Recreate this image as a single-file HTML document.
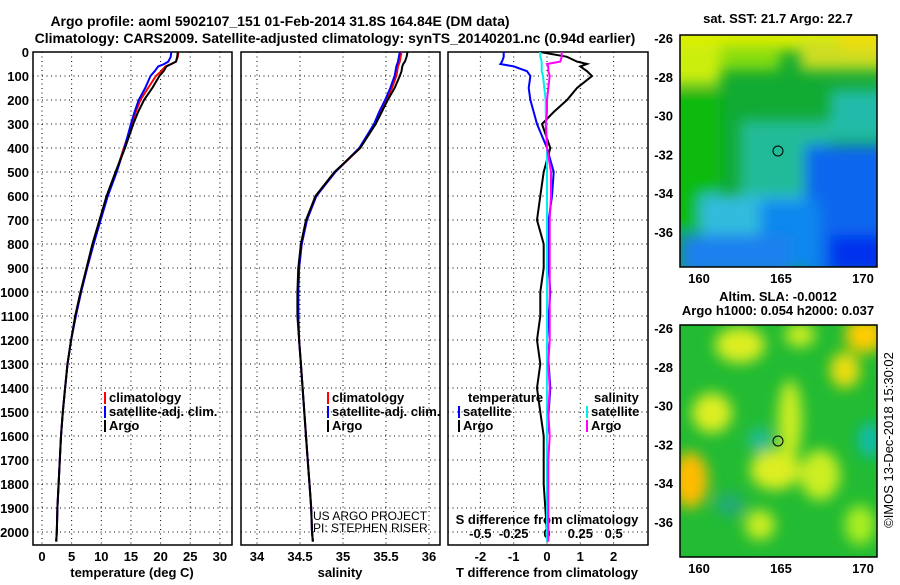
<!DOCTYPE html>
<html><head><meta charset="utf-8"><style>
body{margin:0;background:#fff}
svg text{font-family:"Liberation Sans",Arial,sans-serif;font-weight:bold;font-size:13px;fill:#000}
</style></head><body>
<svg id="s" width="900" height="580" viewBox="0 0 900 580" xmlns="http://www.w3.org/2000/svg">
<defs>
<filter id="bl" x="-20%" y="-20%" width="140%" height="140%"><feGaussianBlur stdDeviation="7"/></filter>
<clipPath id="c1"><rect x="680" y="35" width="197" height="232"/></clipPath>
<clipPath id="c2"><rect x="680" y="325" width="197" height="232"/></clipPath>
</defs>
<text x="280" y="26" text-anchor="middle" style="font-size:14px">Argo profile: aoml 5902107_151 01-Feb-2014 31.8S 164.84E (DM data)</text>
<text x="335" y="43" text-anchor="middle" style="font-size:14px">Climatology: CARS2009. Satellite-adjusted climatology: synTS_20140201.nc (0.94d earlier)</text>

<!-- map 1 -->
<g clip-path="url(#c1)">
<rect x="680" y="35" width="197" height="232" fill="#11aa33"/>
<g filter="url(#bl)">
<rect x="660" y="20" width="240" height="30" fill="#ddee00"/>
<rect x="660" y="45" width="60" height="40" fill="#ccee11"/>
<rect x="720" y="45" width="60" height="25" fill="#88dd11"/>
<rect x="800" y="40" width="90" height="30" fill="#ccdd22"/>
<rect x="840" y="30" width="50" height="20" fill="#eedd11"/>
<rect x="650" y="90" width="70" height="140" fill="#11bb11"/>
<rect x="740" y="120" width="90" height="80" fill="#22bb99"/>
<rect x="830" y="90" width="70" height="50" fill="#22bbaa"/>
<rect x="700" y="195" width="110" height="50" fill="#33bbdd"/>
<rect x="805" y="145" width="90" height="130" fill="#1166ee"/>
<rect x="760" y="200" width="60" height="70" fill="#1188ee"/>
<rect x="680" y="235" width="110" height="40" fill="#1f80ee"/>
<rect x="830" y="235" width="60" height="40" fill="#0033ee"/>
</g>
</g>
<rect x="680" y="35" width="197" height="232" fill="none" stroke="#000" stroke-width="1.5"/>
<circle cx="778" cy="151" r="5" fill="none" stroke="#000"/>
<text x="778" y="23" text-anchor="middle">sat. SST: 21.7 Argo: 22.7</text>

<!-- map 2 -->
<g clip-path="url(#c2)">
<rect x="680" y="325" width="197" height="232" fill="#22bb33"/>
<g filter="url(#bl)">
<ellipse cx="740" cy="345" rx="25" ry="18" fill="#ddee22"/>
<ellipse cx="800" cy="335" rx="15" ry="12" fill="#ccee22"/>
<ellipse cx="865" cy="335" rx="20" ry="18" fill="#ffcc00"/>
<ellipse cx="845" cy="370" rx="15" ry="18" fill="#eedd11"/>
<ellipse cx="712" cy="413" rx="20" ry="20" fill="#ddee22"/>
<ellipse cx="790" cy="420" rx="12" ry="40" fill="#ccee22"/>
<ellipse cx="775" cy="470" rx="25" ry="20" fill="#ddee22"/>
<ellipse cx="820" cy="475" rx="20" ry="25" fill="#ccee22"/>
<ellipse cx="690" cy="480" rx="18" ry="28" fill="#ffbb00"/>
<ellipse cx="760" cy="440" rx="12" ry="12" fill="#22bb99"/>
<ellipse cx="870" cy="440" rx="12" ry="18" fill="#11bbaa"/>
<ellipse cx="730" cy="505" rx="15" ry="12" fill="#22aa77"/>
<ellipse cx="760" cy="525" rx="15" ry="15" fill="#ccee22"/>
<ellipse cx="860" cy="525" rx="15" ry="20" fill="#aaee22"/>
</g>
</g>
<rect x="680" y="325" width="197" height="232" fill="none" stroke="#000" stroke-width="1.5"/>
<circle cx="778" cy="441" r="5" fill="none" stroke="#000"/>
<text x="778" y="301" text-anchor="middle">Altim. SLA: -0.0012</text>
<text x="778" y="315" text-anchor="middle">Argo h1000: 0.054 h2000: 0.037</text>
<text transform="translate(893,440) rotate(-90)" text-anchor="middle" style="font-weight:normal">©IMOS 13-Dec-2018 15:30:02</text>
<text x="313" y="520" style="font-weight:normal;font-size:12px">US ARGO PROJECT</text>
<text x="313" y="532" style="font-weight:normal;font-size:12px">PI: STEPHEN RISER</text>
<g id="g"></g>
</svg>
<script>
// depths (m)
const depths=[0,20,40,50,60,80,100,150,200,250,300,400,500,600,700,800,900,1000,1100,1200,1300,1400,1500,1600,1700,1800,1900,2000,2040];
const tempArgo=[22.9,22.8,22.6,21.8,21.0,20.5,19.8,18.6,17.2,16.2,15.4,14.0,12.4,10.9,9.7,8.5,7.5,6.5,5.6,4.9,4.3,3.9,3.5,3.2,3.0,2.8,2.6,2.5,2.4];
const tempClim=[23.0,22.9,22.6,21.8,20.8,20.1,19.2,17.9,16.6,15.8,15.2,13.8,12.5,11.0,9.8,8.7,7.6,6.6,5.7,4.9,4.3,3.9,3.5,3.2,3.0,2.8,2.6,2.5,2.4];
const tempSat=[21.8,21.7,21.3,20.6,19.6,19.0,18.3,17.4,16.3,15.6,15.0,13.9,12.6,11.1,9.9,8.7,7.6,6.6,5.7,4.9,4.3,3.9,3.5,3.2,3.0,2.8,2.6,2.5,2.4];
const salArgo=[35.75,35.74,35.72,35.70,35.69,35.68,35.66,35.60,35.52,35.45,35.38,35.20,34.90,34.68,34.57,34.51,34.48,34.47,34.47,34.49,34.51,34.53,34.55,34.57,34.59,34.61,34.63,34.64,34.65];
const salClim=[35.68,35.67,35.66,35.65,35.64,35.63,35.62,35.57,35.50,35.43,35.37,35.20,34.91,34.69,34.58,34.52,34.49,34.48,34.48,34.49,34.51,34.53,34.55,34.57,34.59,34.61,34.63,34.64,34.65];
const salSat=[35.66,35.65,35.64,35.63,35.62,35.61,35.60,35.55,35.49,35.42,35.36,35.19,34.91,34.69,34.58,34.52,34.49,34.48,34.48,34.49,34.51,34.53,34.55,34.57,34.59,34.61,34.63,34.64,34.65];
const dTArgo=[-0.2,0.6,0.9,1.2,1.0,1.2,1.35,0.9,0.6,0.2,-0.15,0.1,-0.1,-0.2,-0.3,-0.1,-0.1,-0.2,-0.2,-0.3,-0.2,-0.3,-0.2,-0.1,-0.1,-0.1,-0.05,0,0];
const dTSat=[-1.3,-1.3,-1.35,-1.4,-1.0,-0.6,-0.5,-0.55,-0.5,-0.4,-0.3,0,0.2,0.15,0.05,0.05,0.05,0.1,0.05,0,0.05,0.1,0.05,0,0,0,0,0,0];
const dSArgo=[0.11,0.11,0.10,0.0,0.01,0.01,0.02,0.01,0.0,0.0,-0.01,0.0,0.03,0.03,0.02,0.02,0.02,0.02,0.02,0.02,0.01,0.02,0.01,0.02,0.01,0.01,0.01,0.01,0.01];
const dSSat=[-0.05,-0.05,-0.04,-0.04,-0.04,-0.04,-0.03,-0.02,-0.01,-0.01,-0.005,0.0,0.0,0.0,0.0,0.0,0.0,0.0,0.0,0.0,0.0,0.0,0.0,0.0,0.0,0.0,0.0,0.0,0.0];
const depthTicks=[0,100,200,300,400,500,600,700,800,900,1000,1100,1200,1300,1400,1500,1600,1700,1800,1900,2000];
const tTicks=[0,5,10,15,20,25,30];
const sTicks=[34,34.5,35,35.5,36];
const dTTicks=[-2,-1,0,1,2];
const dSTicks=[-0.5,-0.25,0,0.25,0.5];
const dSLabels=['-0.5','-0.25','0','0.25','0.5'];
const latTicks=[-26,-28,-30,-32,-34,-36];
const lonTicks=[160,165,170];

const NS='http://www.w3.org/2000/svg';
const G=document.getElementById('g');
function el(t,a,p){const e=document.createElementNS(NS,t);for(const k in a)e.setAttribute(k,a[k]);(p||G).appendChild(e);return e;}
const top0=52,bot=545;
const yD=d=>top0+d*0.24;
const panels=[
 {x0:33,x1:232,xs:v=>42+v*5.93,name:'temperature'},
 {x0:241,x1:440,xs:v=>257+(v-34)*86,name:'salinity'},
 {x0:448,x1:648,xs:v=>547+v*33.3,name:'difference'}
];
const xS=v=>547+v*133.3;
panels.forEach((p,i)=>{
 const gr=el('g',{});
 
 
 depthTicks.forEach(d=>{if(d>0)el('line',{x1:p.x0,x2:p.x1,y1:yD(d),y2:yD(d),stroke:'#000','stroke-dasharray':'1,3.5'},gr);});
 const ticks=i==0?tTicks:i==1?sTicks:dTTicks;
 ticks.forEach(v=>{el('line',{x1:p.xs(v),x2:p.xs(v),y1:top0,y2:bot,stroke:'#000','stroke-dasharray':'1,3.5'},gr);});
 const r=el('rect',{x:p.x0,y:top0,width:p.x1-p.x0,height:bot-top0,fill:'none',stroke:'#000','stroke-width':1.5});
 
 
 ticks.forEach(v=>{
  const t=el('text',{x:p.xs(v),y:561,'text-anchor':'middle'});t.textContent=v;
  
  
 });
});
depthTicks.forEach(d=>{
 const t=el('text',{x:29,y:yD(d)+5,'text-anchor':'end'});t.textContent=d;
 
 
});
dSTicks.forEach((v,i)=>{
 const t=el('text',{x:xS(v),y:538,'text-anchor':'middle'});t.textContent=dSLabels[i];
 
 
});
[['temperature (deg C)',132,'temperature-axis-title'],['salinity',340,'salinity-axis-title'],['T difference from climatology',547,'t-diff-axis-title']].forEach(a=>{
 const t=el('text',{x:a[1],y:577,'text-anchor':'middle'});t.textContent=a[0];
 
 
});
const st=el('text',{x:547,y:524,'text-anchor':'middle'});st.textContent='S difference from climatology';


latTicks.forEach((v,i)=>{
 [38,328].forEach((y0,m)=>{
  const y=y0+i*38.8;
  const t=el('text',{x:673,y:y+5,'text-anchor':'end'});t.textContent=v;
  
  
 });
});
lonTicks.forEach(v=>{
 [283,573].forEach(y=>{
  const t=el('text',{x:699+(v-160)*16.4,y:y,'text-anchor':'middle'});t.textContent=v;
  
  
 });
});
function line(vals,xf,col,name){
 const pts=vals.map((v,i)=>xf(v).toFixed(1)+','+yD(depths[i]).toFixed(1)).join(' ');
 const l=el('polyline',{points:pts,fill:'none',stroke:col,'stroke-width':2});
 
 
}
line(tempClim,panels[0].xs,'#f00','temp-climatology-line');
line(tempSat,panels[0].xs,'#00f','temp-satellite-line');
line(tempArgo,panels[0].xs,'#000','temp-argo-line');
line(salClim,panels[1].xs,'#f00','sal-climatology-line');
line(salSat,panels[1].xs,'#00f','sal-satellite-line');
line(salArgo,panels[1].xs,'#000','sal-argo-line');
line(dTSat,panels[2].xs,'#00f','dT-satellite-line');
line(dTArgo,panels[2].xs,'#000','dT-argo-line');
line(dSSat,xS,'#0ee','dS-satellite-line');
line(dSArgo,xS,'#f0f','dS-argo-line');
function leg(x,y,col,txt,name){
 if(col){const r=el('rect',{x:x,y:y-10,width:2,height:12,fill:col});
 
 }
 const t=el('text',{x:x+5,y:y});t.textContent=txt;
 
 
}
[[104,'temp'],[327,'sal']].forEach(a=>{
 leg(a[0],402,'#f00','climatology',a[1]+'-legend-climatology');
 leg(a[0],416,'#00f','satellite-adj. clim.',a[1]+'-legend-satellite');
 leg(a[0],430,'#000','Argo',a[1]+'-legend-argo');
});
leg(463,402,null,'temperature','dT-legend-header');
leg(458,416,'#00f','satellite','dT-legend-satellite');
leg(458,430,'#000','Argo','dT-legend-argo');
leg(589,402,null,'salinity','dS-legend-header');
leg(586,416,'#0ee','satellite','dS-legend-satellite');
leg(586,430,'#f0f','Argo','dS-legend-argo');
</script>
</body></html>
